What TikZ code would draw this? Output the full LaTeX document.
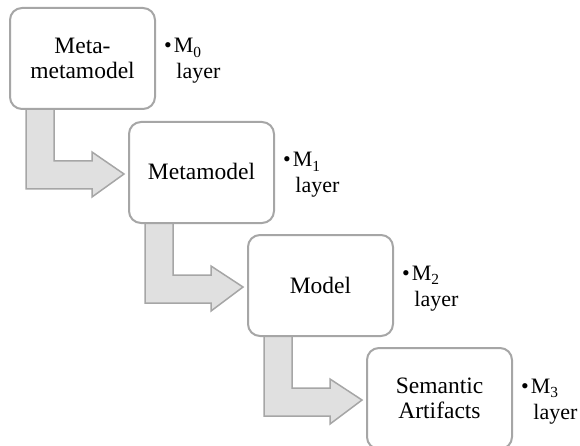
\documentclass[tikz,border=0pt]{standalone}
\usepackage{fontspec}
\setmainfont{Liberation Serif}
\usetikzlibrary{calc}
\definecolor{edgegray}{RGB}{166,166,166}
\definecolor{arrowfill}{RGB}{224,224,224}
\tikzset{
  levelbox/.style={draw=edgegray, line width=2pt, fill=white, rounded corners=12pt,
    minimum width=145pt, minimum height=101pt, inner sep=0pt, align=center,
    font=\fontsize{23.5}{25}\selectfont},
  bentarrow/.style={draw=edgegray, line width=1.5pt, fill=arrowfill, line join=miter},
  layerlabel/.style={anchor=base west, inner sep=0pt, font=\fontsize{22}{26}\selectfont}
}
\newcommand{\boxtext}[1]{\raisebox{-2.5pt}[\height][\depth]{\begin{tabular}{@{}c@{}}#1\end{tabular}}}
\newcommand{\layertext}[1]{\begin{tabular}[t]{@{}l@{}l@{}}\textbullet\hspace{2pt} & M\textsubscript{\raisebox{-1.5pt}{#1}}\\ & \hspace{2.5pt}layer\end{tabular}}
\begin{document}
\begin{tikzpicture}[x=1pt,y=-1pt]
\useasboundingbox (0,0) rectangle (580,446);
% box positions (defined first so arrows can use them)
\path (82.5,58.5) coordinate (c1) (201.5,172.5) coordinate (c2) (320.5,285.5) coordinate (c3) (439.5,398.5) coordinate (c4);
% invisible placeholders to compute anchors
\node[levelbox, draw=none, fill=none] (p1) at (c1) {};
\node[levelbox, draw=none, fill=none] (p2) at (c2) {};
\node[levelbox, draw=none, fill=none] (p3) at (c3) {};
\node[levelbox, draw=none, fill=none] (p4) at (c4) {};
% bent arrows
\foreach \a/\b in {p1/p2, p2/p3, p3/p4}{
  \draw[bentarrow] ($(\a.south west)+(17,-20)$) -- ++(0,99) -- ++(66,0) -- ++(0,8)
    -- ($(\b.west)+(-4,1.5)$) -- ($(\a.south west)+(83,42)$) -- ++(0,9) -- ++(-38,0) -- ++(0,-71) -- cycle;
}
% boxes
\node[levelbox] (b1) at (c1) {\boxtext{Meta-\\metamodel}};
\node[levelbox] (b2) at (c2) {\boxtext{Metamodel}};
\node[levelbox] (b3) at (c3) {\boxtext{Model}};
\node[levelbox] (b4) at (c4) {\boxtext{Semantic\\Artifacts}};
% layer labels
\node[layerlabel] (l1) at ($(b1.north east)+(8,46)$) {\layertext{0}};
\node[layerlabel] (l2) at ($(b2.north east)+(8,46)$) {\layertext{1}};
\node[layerlabel] (l3) at ($(b3.north east)+(8,46)$) {\layertext{2}};
\node[layerlabel] (l4) at ($(b4.north east)+(8,46)$) {\layertext{3}};
\end{tikzpicture}
\end{document}
